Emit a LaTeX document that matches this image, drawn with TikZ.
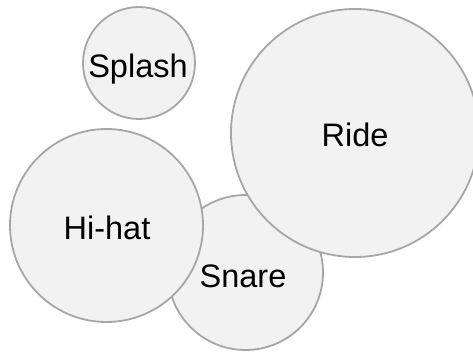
\documentclass[tikz,border=0pt]{standalone}
\usepackage{fontspec}
\setmainfont{Liberation Sans}
\definecolor{bubblefill}{HTML}{F2F2F2}
\definecolor{bubbleedge}{HTML}{A6A6A6}
\begin{document}
\begin{tikzpicture}[x=1pt,y=-1pt,
  bubble/.style={circle,draw=bubbleedge,fill=bubblefill,line width=1.8pt,
    inner sep=0pt},
  bubbletext/.style={font=\fontsize{32.5}{32.5}\selectfont,text=black}]
\useasboundingbox (0,0) rectangle (473,352);
% smaller bubbles sit underneath the larger ones where they overlap
\node[bubble,minimum size=155pt] (snare) at (245.5,272.5) {};
\node[bubble,minimum size=193pt] (hihat) at (106.5,225.5) {};
\node[bubble,minimum size=248pt] (ride) at (355,133) {};
\node[bubble,minimum size=112pt] (splash) at (139,63) {};
\node[bubbletext] (snarelbl) at (243,276) {Snare};
\node[bubbletext] (hihatlbl) at (107,228) {Hi-hat};
\node[bubbletext] (ridelbl) at (355,135) {Ride};
\node[bubbletext] (splashlbl) at (138,69) {Splash};
\end{tikzpicture}
\end{document}
